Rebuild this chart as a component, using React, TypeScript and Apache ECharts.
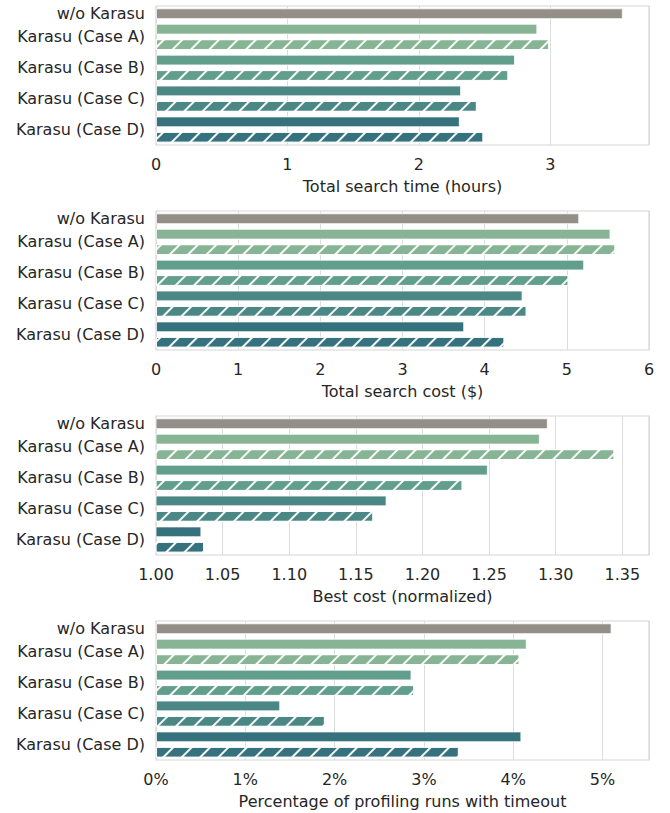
import React, { useEffect, useRef } from 'react';
import * as echarts from 'echarts';

const categories = ['w/o Karasu', 'Karasu (Case A)', 'Karasu (Case B)', 'Karasu (Case C)', 'Karasu (Case D)'];
const labelSlots = [0, 1.5, 3.5, 5.5, 7.5];

const timeBaseline = 3.55;
const timeSolid = [2.90, 2.73, 2.32, 2.31];
const timeHatched = [2.99, 2.68, 2.44, 2.49];

const costBaseline = 5.15;
const costSolid = [5.53, 5.21, 4.46, 3.75];
const costHatched = [5.59, 5.02, 4.51, 4.24];

const bestBaseline = 1.294;
const bestSolid = [1.288, 1.249, 1.173, 1.034];
const bestHatched = [1.344, 1.230, 1.163, 1.036];

const timeoutBaseline = 5.10;
const timeoutSolid = [4.15, 2.86, 1.39, 4.09];
const timeoutHatched = [4.07, 2.89, 1.89, 3.39];

const baselineColor = '#948e89';
const caseColors = ['#86b495', '#629e8c', '#4b8885', '#36727e'];
const textColor = '#262626';
const FONT = 'DejaVu Sans';

const panels = [
  { title: 'Total search time (hours)', min: 0, max: 3.75, interval: 1, showMax: false, fmt: (v: number) => String(Math.round(v)), baseline: timeBaseline, solid: timeSolid, hatched: timeHatched },
  { title: 'Total search cost ($)', min: 0, max: 6, interval: 1, showMax: true, fmt: (v: number) => String(Math.round(v)), baseline: costBaseline, solid: costSolid, hatched: costHatched },
  { title: 'Best cost (normalized)', min: 1.0, max: 1.37, interval: 0.05, showMax: false, fmt: (v: number) => v.toFixed(2), baseline: bestBaseline, solid: bestSolid, hatched: bestHatched },
  { title: 'Percentage of profiling runs with timeout', min: 0, max: 5.52, interval: 1, showMax: false, fmt: (v: number) => Math.round(v) + '%', baseline: timeoutBaseline, solid: timeoutSolid, hatched: timeoutHatched },
];

const gridTops = [6, 211, 416, 621];

export default function App() {
  const ref = useRef<HTMLDivElement>(null);
  useEffect(() => {
    if (!ref.current) return;
    const chart = echarts.init(ref.current, undefined, { renderer: 'svg' });
    const grids: any[] = [];
    const xAxes: any[] = [];
    const yAxes: any[] = [];
    const series: any[] = [];
    const slotNames = ['base', 'As', 'Ah', 'Bs', 'Bh', 'Cs', 'Ch', 'Ds', 'Dh'];
    const decal = {
      symbol: 'rect',
      symbolSize: 1,
      dashArrayX: [1, 0],
      dashArrayY: [1.8, 11],
      rotation: -Math.PI / 4,
      color: 'rgba(255,255,255,0.95)',
    };
    panels.forEach((p, i) => {
      grids.push({
        left: 156, width: 493, top: gridTops[i], height: 139,
        show: true, borderColor: '#d6d6d6', borderWidth: 1.2, backgroundColor: '#fff',
      });
      xAxes.push({
        type: 'value', gridIndex: i, min: p.min, max: p.max, interval: p.interval,
        name: p.title, nameLocation: 'middle', nameGap: 33,
        nameTextStyle: { fontSize: 16, color: textColor, fontFamily: FONT },
        axisLine: { show: false }, axisTick: { show: false },
        axisLabel: { fontSize: 16, color: textColor, fontFamily: FONT, margin: 11, showMaxLabel: p.showMax, formatter: p.fmt },
        splitLine: { show: true, lineStyle: { color: '#dcdcdc', width: 1 } },
      });
      yAxes.push({
        type: 'category', gridIndex: i, data: slotNames, inverse: true, show: false,
      });
      yAxes.push({
        type: 'value', gridIndex: i, position: 'left', min: -0.5, max: 8.5, inverse: true,
        axisLine: { show: false }, axisTick: { show: false }, splitLine: { show: false },
        axisLabel: {
          customValues: labelSlots, fontSize: 16, color: textColor, fontFamily: FONT, margin: 11,
          formatter: (v: number) => {
            const k = labelSlots.findIndex((s) => Math.abs(s - v) < 1e-6);
            return k >= 0 ? categories[k] : '';
          },
        },
      });
      const data: any[] = [{ value: p.baseline, itemStyle: { color: baselineColor } }];
      for (let c = 0; c < 4; c++) {
        data.push({ value: p.solid[c], itemStyle: { color: caseColors[c] } });
        data.push({ value: p.hatched[c], itemStyle: { color: caseColors[c], decal } });
      }
      series.push({
        type: 'bar', xAxisIndex: i, yAxisIndex: 2 * i, data, barWidth: '69%',
        itemStyle: { borderColor: '#ffffff', borderWidth: 0.8 },
        silent: true,
      });
    });
    chart.setOption({
      animation: false,
      backgroundColor: '#ffffff',
      textStyle: { fontFamily: FONT, color: textColor },
      grid: grids, xAxis: xAxes, yAxis: yAxes, series,
    });
    return () => chart.dispose();
  }, []);
  return <div ref={ref} style={{ position: 'fixed', left: 0, top: 0, width: 670, height: 813 }} />;
}
